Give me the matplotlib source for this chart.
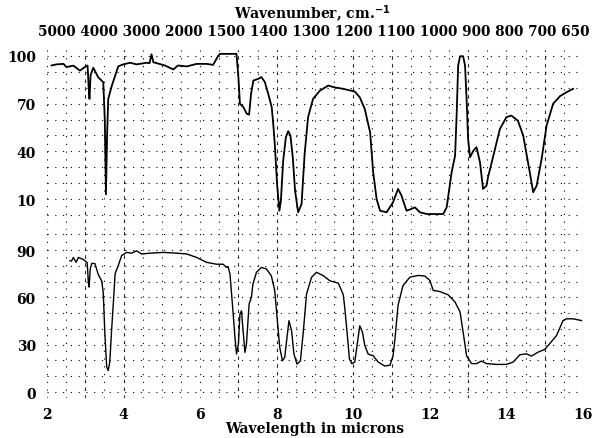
import numpy as np
import matplotlib
matplotlib.use("Agg")
import matplotlib.pyplot as plt

# upper spectrum (wavelength in microns, % transmittance)
top_um = [2.12, 2.25, 2.43, 2.51, 2.69, 2.86, 2.99, 3.06, 3.09, 3.11, 3.14, 3.21, 3.34, 3.47,
          3.51, 3.54, 3.57, 3.6, 3.69, 3.78, 3.86, 3.99, 4.17, 4.34, 4.6, 4.68, 4.73, 4.78,
          4.86, 5.08, 5.3, 5.42, 5.65, 5.91, 6.17, 6.34, 6.47, 6.52, 6.95, 7.0, 7.04, 7.13,
          7.22, 7.28, 7.33, 7.39, 7.52, 7.6, 7.69, 7.78, 7.87, 7.91, 7.95, 8.01, 8.07, 8.11,
          8.17, 8.24, 8.3, 8.36, 8.42, 8.48, 8.56, 8.65, 8.73, 8.82, 8.95, 9.13, 9.35, 9.48,
          9.74, 10.04, 10.17, 10.3, 10.44, 10.52, 10.61, 10.7, 10.87, 11.04, 11.17, 11.26,
          11.39, 11.52, 11.61, 11.74, 11.92, 12.35, 12.44, 12.57, 12.66, 12.7, 12.74, 12.79,
          12.87, 12.92, 12.96, 13.0, 13.05, 13.14, 13.22, 13.31, 13.39, 13.48, 13.52, 13.66,
          13.83, 14.0, 14.13, 14.3, 14.44, 14.61, 14.7, 14.79, 14.92, 15.05, 15.22, 15.4,
          15.57, 15.74]
top_T = [94, 94.7, 95, 93, 93.9, 90.8, 93, 94, 80, 73, 88, 92.6, 86.5, 83.5,
         60, 13, 50, 73, 81, 87.5, 93.4, 94.7, 95.7, 94.7, 95.7, 95.5, 101, 96,
         95.5, 94, 91.5, 94, 93.4, 95, 95, 94.4, 100, 101.3, 101.3, 86.6, 69.9, 67.8,
         63.6, 63.1, 76.1, 84.5, 85.6, 86.7, 83.6, 76.1, 67.8, 57.3, 44.7, 19.5, 2.7, 9,
         34.2, 48.9, 52.7, 49.9, 36.3, 15.3, 1.7, 6.9, 38.4, 61.5, 73, 78.2, 81.4, 80.4,
         79.3, 77.6, 74, 66.7, 52, 26.9, 10, 2.7, 1.7, 8, 16.4, 12.2,
         2.7, 3.8, 4.8, 1.7, 0.6, 0.6, 4.8, 26.9, 37.3, 62.5, 94, 99.8,
         99.8, 94, 73, 47.8, 36.3, 40.5, 42.6, 33.2, 16.4, 18.4, 23.7, 37.3,
         54.1, 61.5, 62.5, 59.3, 49.9, 26.9, 14.3, 18.4, 35.2, 56.2, 69.9, 74.7,
         77.2, 79.3]

# lower spectrum
bot_um = [2.6, 2.64, 2.69, 2.76, 2.82, 2.95, 3.05, 3.08, 3.1, 3.13, 3.17, 3.25, 3.34, 3.43,
          3.47, 3.51, 3.56, 3.6, 3.64, 3.69, 3.73, 3.78, 3.86, 3.95, 4.08, 4.21, 4.34, 4.47,
          4.69, 5.04, 5.39, 5.65, 5.91, 6.17, 6.43, 6.6, 6.69, 6.73, 6.78, 6.85, 6.91, 6.95,
          7.0, 7.04, 7.08, 7.13, 7.17, 7.21, 7.28, 7.34, 7.38, 7.47, 7.6, 7.73, 7.86, 7.95,
          8.01, 8.08, 8.15, 8.21, 8.27, 8.32, 8.39, 8.45, 8.53, 8.62, 8.69, 8.78, 8.91, 9.04,
          9.22, 9.39, 9.61, 9.74, 9.78, 9.83, 9.9, 9.96, 10.04, 10.1, 10.17, 10.24, 10.3,
          10.39, 10.52, 10.65, 10.82, 10.96, 11.04, 11.09, 11.17, 11.3, 11.48, 11.7, 11.87,
          12.0, 12.09, 12.26, 12.48, 12.66, 12.79, 12.87, 12.96, 13.09, 13.22, 13.35, 13.48,
          13.74, 14.0, 14.18, 14.35, 14.52, 14.66, 14.83, 15.0, 15.13, 15.31, 15.48, 15.57,
          15.74, 15.96]
bot_T = [83.2, 83, 85.3, 82.2, 85.3, 84, 82, 70, 66.5, 78, 81.5, 81.5, 74.5, 70.3,
         63, 38, 15.8, 13.6, 19, 40, 55, 75, 80, 86.5, 88.5, 88, 89.5, 87.5,
         88, 88.5, 88, 87.5, 85.3, 82.2, 81, 81, 79, 79.5, 74.8, 53.7, 34.7, 24.1,
         30.4, 49.4, 51.5, 36.8, 25.1, 30.4, 55.8, 60, 68.4, 75.8, 79, 78, 73.7, 64.2,
         47.3, 28.3, 19.8, 22, 34.7, 45.2, 38.8, 24.1, 17.7, 19.8, 36.8, 62.1, 72.7, 75.9,
         73.7, 70.5, 69, 61.6, 53, 40, 21, 18, 19, 29.6, 42, 38, 29.6,
         24, 23, 19, 16.5, 17, 23, 33.8, 55, 67.5, 72.8, 73.9, 73.5,
         70.7, 64.4, 63.7, 61.6, 57, 50.7, 38, 23, 18, 18, 19.6, 18,
         17.5, 17.5, 19, 23.6, 24.2, 22.8, 25.3, 27, 30.6, 35.8, 45.3, 46.4,
         46.4, 45.3]

top_yticks = [10, 40, 70, 100]
bot_yticks = [0, 30, 60, 90]
x_ticks = [2, 4, 6, 8, 10, 12, 14, 16]
wavenumbers = ["5000", "4000", "3000", "2000", "1500", "1400", "1300", "1200",
               "1100", "1000", "900", "800", "700", "650"]

plt.rcParams['font.family'] = ['DejaVu Serif']
plt.rcParams['font.weight'] = 'bold'

fig = plt.figure(figsize=(6, 4.39), dpi=100)
ax_top = fig.add_axes([0.0783, 0.4736, 0.8933, 0.4112])
ax_bot = fig.add_axes([0.0783, 0.0904, 0.8933, 0.3827])

dot = (0, (1, 6))
for ax, ylo, yhi in [(ax_top, -9.5, 104), (ax_bot, -4, 102.5)]:
    ax.set_xlim(2, 16)
    ax.set_ylim(ylo, yhi)
    for s in ax.spines.values():
        s.set_visible(False)
    for xv in np.arange(2, 16.01, 0.5):
        ax.axvline(xv, color='black', lw=0.8, ls=dot, zorder=1)
    for yv in range(0, 101, 10):
        ax.axhline(yv, color='black', lw=0.8, ls=dot, zorder=1)
    ax.tick_params(length=0, labelsize=10, pad=8)

# heavier printed rulings
for ax in (ax_top, ax_bot):
    for xv in [3, 4, 7, 8, 10, 11, 13, 15, 16]:
        ax.axvline(xv, color='black', lw=0.8, ls=(0, (3, 4)), zorder=1, alpha=0.75)

ax_top.plot(top_um, top_T, color='black', lw=1.3, zorder=3)
ax_bot.plot(bot_um, bot_T, color='black', lw=1.0, zorder=3)

ax_top.set_yticks(top_yticks)
ax_top.set_xticks([])
ax_bot.set_yticks(bot_yticks)
ax_bot.set_xticks(x_ticks)
ax_bot.set_xticklabels([str(v) for v in x_ticks])
ax_bot.tick_params(axis='x', pad=6)

ax_bot.set_xlabel('Wavelength in microns', fontsize=10, fontweight='bold', labelpad=0)
fig.text(0.52, 0.968, 'Wavenumber, cm.$^{-1}$', ha='center', va='center', fontsize=10)
fig.text(0.523, 0.927, ' '.join(wavenumbers), ha='center', va='center', fontsize=9.8)

fig.savefig('out.png', dpi=100)
